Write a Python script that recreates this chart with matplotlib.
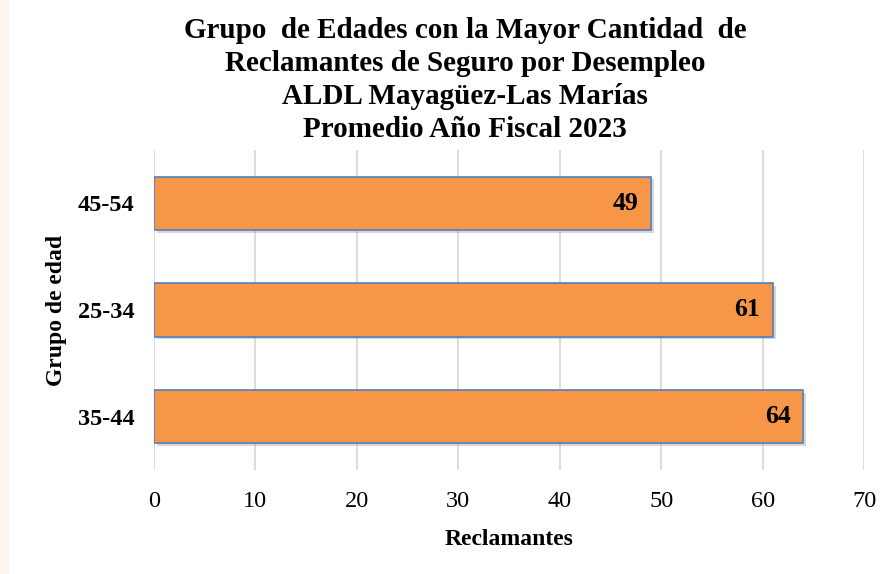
import matplotlib.pyplot as plt
from matplotlib.patches import Rectangle
import matplotlib.patheffects as pe

# data
grupos = ['35-44', '25-34', '45-54']
reclamantes = [64, 61, 49]
x_ticks = [0, 10, 20, 30, 40, 50, 60, 70]

plt.rcParams['font.family'] = ['Liberation Serif', 'DejaVu Serif']

fig = plt.figure(figsize=(8.88, 5.74), dpi=100)
fig.patches.append(Rectangle((0, 0), 0.009, 1, transform=fig.transFigure,
                             color='#fcf4ee', zorder=0))
ax = fig.add_axes([0.1734, 0.181, 0.7996, 0.558])

bars = ax.barh(range(len(grupos)), reclamantes, height=0.5,
               color='#F79646', edgecolor='#4F81BD', linewidth=1.2, zorder=3)
for b in bars:
    b.set_path_effects([pe.SimplePatchShadow(offset=(2, -2), shadow_rgbFace='#999999', alpha=0.4),
                        pe.Normal()])

for i, v in enumerate(reclamantes):
    ax.annotate(str(v), (v, i), xytext=(-9, 0), textcoords='offset points',
                ha='right', va='center', fontsize=18.5, fontweight='bold', zorder=4)

ax.set_xlim(0, 70)
ax.set_ylim(-0.5, 2.5)
ax.set_xticks(x_ticks)
ax.set_yticks(range(len(grupos)))
ax.set_yticklabels(grupos, fontsize=17.5, fontweight='bold')
ax.tick_params(axis='x', labelsize=17.5, length=0, pad=15)
ax.tick_params(axis='y', length=0, pad=14)
ax.grid(axis='x', color='#d9d9d9', linewidth=1.3, zorder=0)
for s in ax.spines.values():
    s.set_visible(False)

ax.set_xlabel('Reclamantes', fontsize=17, fontweight='bold', labelpad=12)
ax.set_ylabel('Grupo de edad', fontsize=17, fontweight='bold', labelpad=8)

fig.text(0.524, 0.97, 'Grupo  de Edades con la Mayor Cantidad  de\n'
         'Reclamantes de Seguro por Desempleo\n'
         'ALDL Mayagüez-Las Marías\n'
         'Promedio Año Fiscal 2023',
         ha='center', va='top', fontsize=21, fontweight='bold', linespacing=1.28)

fig.savefig('out.png', dpi=100)
